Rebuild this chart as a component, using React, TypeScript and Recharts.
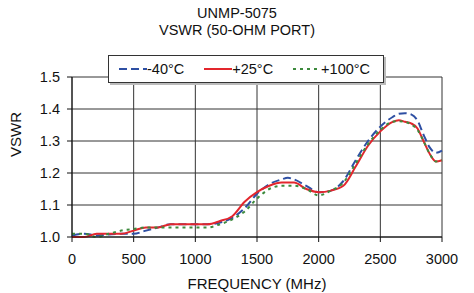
import React from 'react'
import {
  LineChart,
  Line,
  XAxis,
  YAxis,
  CartesianGrid,
  Legend,
} from 'recharts'

const freq = [0, 100, 200, 300, 400, 500, 600, 700, 800, 900, 1000, 1100, 1200, 1300, 1400, 1500, 1600, 1700, 1750, 1800, 1900, 2000, 2100, 2200, 2300, 2400, 2500, 2600, 2650, 2700, 2750, 2800, 2850, 2900, 2950, 3000]

const vswrCold = [1.005, 1.01, 1.005, 1.008, 1.01, 1.01, 1.02, 1.03, 1.04, 1.04, 1.04, 1.04, 1.045, 1.06, 1.09, 1.135, 1.165, 1.18, 1.185, 1.18, 1.16, 1.14, 1.145, 1.175, 1.24, 1.3, 1.345, 1.375, 1.385, 1.387, 1.383, 1.365, 1.32, 1.28, 1.263, 1.27]
const vswrRoom = [1.0, 1.0, 1.01, 1.01, 1.01, 1.02, 1.03, 1.03, 1.04, 1.04, 1.04, 1.04, 1.05, 1.065, 1.11, 1.14, 1.16, 1.17, 1.17, 1.17, 1.15, 1.14, 1.145, 1.16, 1.22, 1.285, 1.33, 1.36, 1.365, 1.36, 1.355, 1.34, 1.3, 1.26, 1.236, 1.24]
const vswrHot = [1.01, 1.01, 1.0, 1.01, 1.02, 1.025, 1.03, 1.03, 1.03, 1.03, 1.03, 1.03, 1.04, 1.055, 1.08, 1.12, 1.15, 1.16, 1.16, 1.16, 1.15, 1.13, 1.145, 1.17, 1.23, 1.29, 1.335, 1.36, 1.362, 1.36, 1.352, 1.335, 1.3, 1.26, 1.236, 1.24]

const xTicks = [0, 500, 1000, 1500, 2000, 2500, 3000]
const yTicks = [1.0, 1.1, 1.2, 1.3, 1.4, 1.5]

const seriesNames = ['-40°C', '+25°C', '+100°C']
const colors = ['#2e4fa3', '#e3262d', '#3d8a3d']
const dashes = ['8 4', undefined, '3 4']

const data = freq.map((f, i) => ({
  f,
  cold: vswrCold[i],
  room: vswrRoom[i],
  hot: vswrHot[i],
}))

const font = 'Arial, "Liberation Sans", sans-serif'

function LegendBox() {
  return (
    <div
      style={{
        border: '1px solid #333',
        background: '#fff',
        height: 26,
        display: 'flex',
        alignItems: 'center',
        fontFamily: font,
        fontSize: 14.5,
        color: '#111',
        boxShadow: '2px 2px 0 #bbb',
      }}
    >
      {seriesNames.map((n, i) => (
        <div key={n} style={{ display: 'flex', alignItems: 'center', marginLeft: i === 0 ? 10 : 20 }}>
          <svg width={28} height={6}>
            <line x1={0} y1={3} x2={28} y2={3} stroke={colors[i]} strokeWidth={2} strokeDasharray={dashes[i]} />
          </svg>
          <span style={{ marginLeft: 0 }}>{n}</span>
        </div>
      ))}
    </div>
  )
}

function App() {
  return (
    <div style={{ position: 'absolute', left: 0, top: 0, width: 474, height: 293, background: '#fff' }}>
      <div style={{ position: 'absolute', top: 5, width: 474, textAlign: 'center', fontFamily: font, fontSize: 14.5, lineHeight: '17px', color: '#111' }}>
        UNMP-5075<br />VSWR (50-OHM PORT)
      </div>
      <LineChart width={474} height={293} data={data} margin={{ top: 49, right: 32, left: 0, bottom: 0 }}>
        <CartesianGrid stroke="#333" strokeWidth={1} horizontalValues={yTicks} verticalValues={xTicks} />
        <XAxis
          dataKey="f"
          type="number"
          domain={[0, 3000]}
          ticks={xTicks}
          stroke="#111"
          tickSize={5}
          tickMargin={12}
          tick={{ fill: '#111', fontSize: 14.5, fontFamily: font }}
          height={56}
          label={{ value: 'FREQUENCY (MHz)', position: 'insideBottom', offset: 4, fill: '#111', fontSize: 15, fontFamily: font }}
        />
        <YAxis
          type="number"
          domain={[1, 1.5]}
          ticks={yTicks}
          tickFormatter={(v: number) => v.toFixed(1)}
          stroke="#111"
          tickSize={5}
          tickMargin={7}
          width={72}
          tick={{ fill: '#111', fontSize: 14.5, fontFamily: font }}
          label={{ value: 'VSWR', angle: -90, position: 'insideLeft', offset: 16, fill: '#111', fontSize: 15, fontFamily: font }}
        />
        <Legend
          verticalAlign="top"
          content={<LegendBox />}
          wrapperStyle={{ top: 55, left: 108, width: 276 }}
        />
        <Line dataKey="cold" name={seriesNames[0]} type="monotone" stroke={colors[0]} strokeWidth={2} strokeDasharray={dashes[0]} dot={false} isAnimationActive={false} />
        <Line dataKey="room" name={seriesNames[1]} type="monotone" stroke={colors[1]} strokeWidth={2} dot={false} isAnimationActive={false} />
        <Line dataKey="hot" name={seriesNames[2]} type="monotone" stroke={colors[2]} strokeWidth={2} strokeDasharray={dashes[2]} dot={false} isAnimationActive={false} />
      </LineChart>
    </div>
  )
}

export default App
